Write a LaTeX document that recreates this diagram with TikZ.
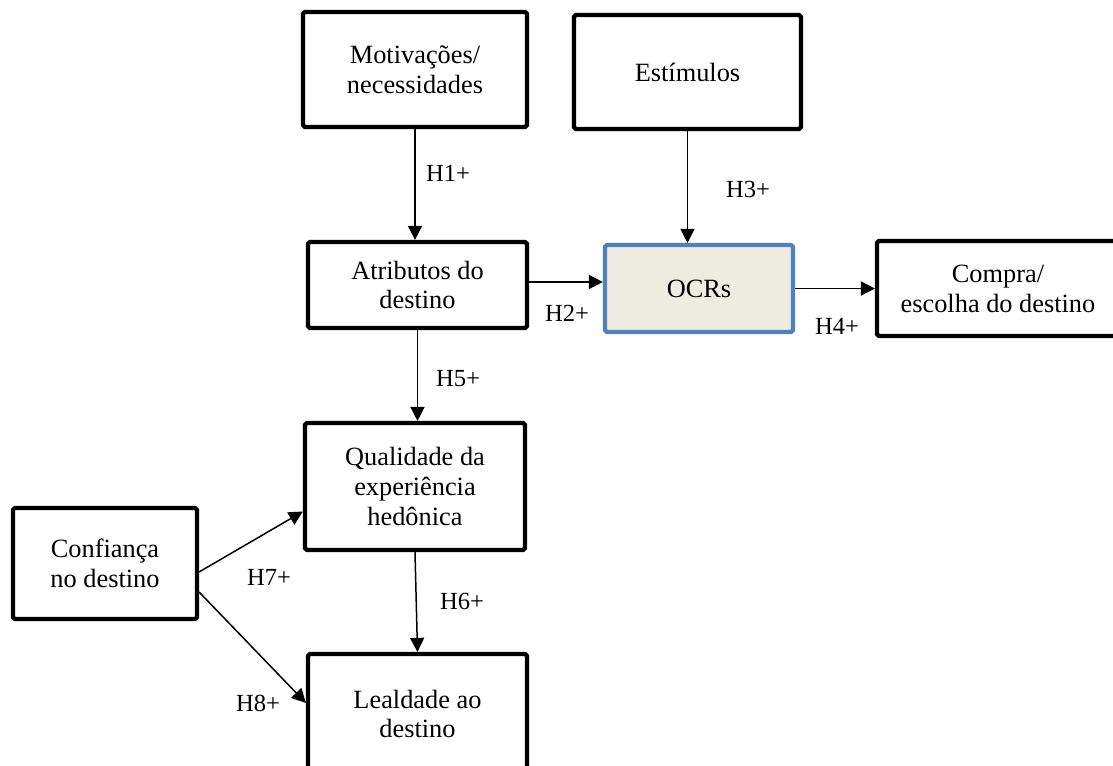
\documentclass[tikz,border=0pt]{standalone}
\usepackage{fontspec}
\setmainfont{Liberation Serif}
\usepackage{tikz}
\usetikzlibrary{arrows.meta}
\usetikzlibrary{positioning}
\definecolor{ocrsFill}{HTML}{EEECE1}
\definecolor{ocrsLine}{HTML}{4F81BD}
\tikzset{
  every node/.style = {font = \fontsize{14pt}{17pt}\selectfont, align = center},
  varBox/.style = {draw, line width = 2.4pt, rounded corners = 1pt, inner sep = 0pt, font = \fontsize{15pt}{17pt}\selectfont},
  ocrsStyle/.style = {varBox, draw = ocrsLine, fill = ocrsFill},
  hypArrow/.style = {-{Triangle[length = 8pt, width = 8pt]}, line width = 0.85pt}
}

\begin{document}
\begin{tikzpicture}[x = 0.02cm, y = -0.02cm]
                        \useasboundingbox (0,0) rectangle (1113,765);
                        \node[varBox, minimum width = 4.48cm, minimum height = 2.30cm] (motivBox) at (415,69.5) {Motivações/\\necessidades};
                        \node[varBox, minimum width = 4.54cm, minimum height = 2.28cm] (estimBox) at (687.5,72) {Estímulos};
                        \node[varBox, minimum width = 4.38cm, minimum height = 1.72cm] (atribBox) at (417.5,285) {Atributos do\\destino};
                        \node[ocrsStyle, minimum width = 3.76cm, minimum height = 1.74cm] (ocrsBox) at (699,288.5) {OCRs};
                        \node[varBox, minimum width = 4.84cm, minimum height = 1.90cm] (compraBox) at (998,288.5) {Compra/\\escolha do destino};
                        \node[varBox, minimum width = 4.40cm, minimum height = 2.54cm] (qualiBox) at (415,486.5) {Qualidade da\\experiência\\hedônica};
                        \node[varBox, minimum width = 3.68cm, minimum height = 2.22cm] (confBox) at (105,563.5) {Confiança\\no destino};
                        \node[varBox, minimum width = 4.38cm, minimum height = 2.40cm] (lealBox) at (417.5,714) {Lealdade ao\\destino};
                        \draw[hypArrow] (motivBox.south) -- (motivBox.south |- atribBox.north);
                        \draw[hypArrow] (estimBox.south) -- (estimBox.south |- ocrsBox.north);
                        \draw[hypArrow] ([yshift = 0.06cm]atribBox.east) -- ([yshift = 0.06cm]atribBox.east -| ocrsBox.west);
                        \draw[hypArrow] (ocrsBox.east) -- (compraBox.west);
                        \draw[hypArrow] (atribBox.south) -- (atribBox.south |- qualiBox.north);
                        \draw[hypArrow] (qualiBox.south) -- (lealBox.north);
                        \draw[hypArrow] ([yshift = -0.17cm]confBox.east) -- ([yshift = -0.5cm]qualiBox.west);
                        \draw[hypArrow] ([yshift = -0.57cm]confBox.east) -- ([yshift = 0.22cm]lealBox.west);
                        \foreach \hypName/\xPos/\yPos in {H1/448/173,H2/567/313,H3/748/189,H4/837/326,H5/458/379,H6/462/601,H7/269/577,H8/258/703}{
                            \node (lbl\hypName) at (\xPos,\yPos) {\hypName+};
                          }
                      \end{tikzpicture}
\end{document}
